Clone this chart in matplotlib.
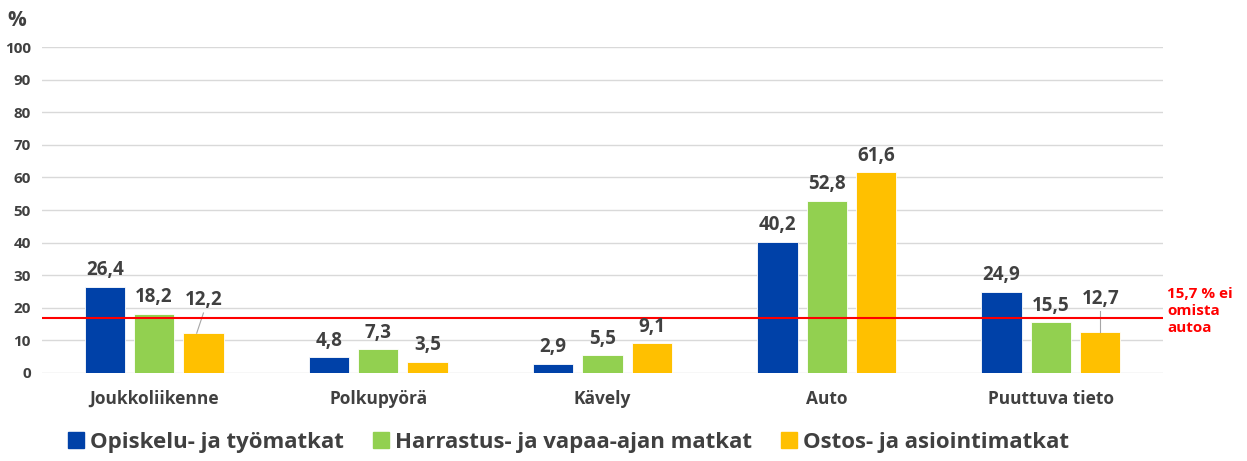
import numpy as np
import matplotlib.pyplot as plt

plt.rcParams['font.family'] = ['Open Sans', 'DejaVu Sans']

categories = ['Joukkoliikenne', 'Polkupyörä', 'Kävely', 'Auto', 'Puuttuva tieto']
series = ['Opiskelu- ja työmatkat', 'Harrastus- ja vapaa-ajan matkat', 'Ostos- ja asiointimatkat']
opiskelu = [26.4, 4.8, 2.9, 40.2, 24.9]
harrastus = [18.2, 7.3, 5.5, 52.8, 15.5]
ostos = [12.2, 3.5, 9.1, 61.6, 12.7]
ref_line = 17.0
ref_label = '15,7 % ei\nomista\nautoa'

colors = ['#0041A8', '#92D050', '#FFC000']
txt = '#404040'

fig = plt.figure(figsize=(12.47, 4.61), dpi=100)
ax = fig.add_axes([42 / 1247, 1 - 373 / 461, 1121 / 1247, 326 / 461])

x = np.arange(len(categories))
w = 0.18
off = 0.22
for i, (vals, c) in enumerate(zip([opiskelu, harrastus, ostos], colors)):
    pos = x + (i - 1) * off
    ax.bar(pos, vals, w, color=c, zorder=3, edgecolor='white', linewidth=0.6)
    for p, v in zip(pos, vals):
        lbl = f'{v:.1f}'.replace('.', ',')
        if i == 2 and v in (12.2, 12.7):
            ty = v + 7.0
            ax.plot([p - (0.03 if v == 12.2 else 0), p], [v, ty - 0.8],
                    color='#a6a6a6', lw=0.8, zorder=4)
        else:
            ty = v + 2.0
        ax.text(p, ty, lbl, ha='center', va='bottom', fontsize=13.5,
                fontweight='bold', color=txt, zorder=5)

ax.axhline(ref_line, color='#FF0000', lw=1.5, zorder=4)
ax.text(1.004, (373 - 287) / 326, ref_label, transform=ax.transAxes,
        color='#FF0000', fontsize=11, fontweight='bold', va='top', ha='left',
        linespacing=1.25)

ax.set_xlim(-0.5, len(categories) - 0.5)
ax.set_ylim(0, 100)
ax.set_yticks(np.arange(0, 101, 10))
ax.yaxis.grid(True, color='#d9d9d9', lw=1, zorder=0)
ax.set_axisbelow(True)
for s in ax.spines.values():
    s.set_visible(False)
ax.tick_params(axis='both', length=0, colors=txt)
ax.set_xticks(x)
ax.set_xticklabels(categories, fontsize=12.5, fontweight='bold', color=txt)
ax.tick_params(axis='x', pad=12)
for lab in ax.get_yticklabels():
    lab.set_fontsize(11)
    lab.set_fontweight('bold')
ax.tick_params(axis='y', pad=8)
fig.text(17 / 1247, 1 - 20 / 461, '%', fontsize=15, fontweight='bold', color=txt,
         ha='center', va='center')

handles = [plt.Rectangle((0, 0), 1, 1, color=c) for c in colors]
fig.legend(handles, series, loc='center', bbox_to_anchor=(0.456, 1 - 442 / 461),
           ncol=3, frameon=False, prop={'size': 16, 'weight': 'bold'},
           labelcolor=txt, handlelength=0.7, handleheight=0.7,
           handletextpad=0.3, columnspacing=1.3)

fig.savefig('out.png', dpi=100)
